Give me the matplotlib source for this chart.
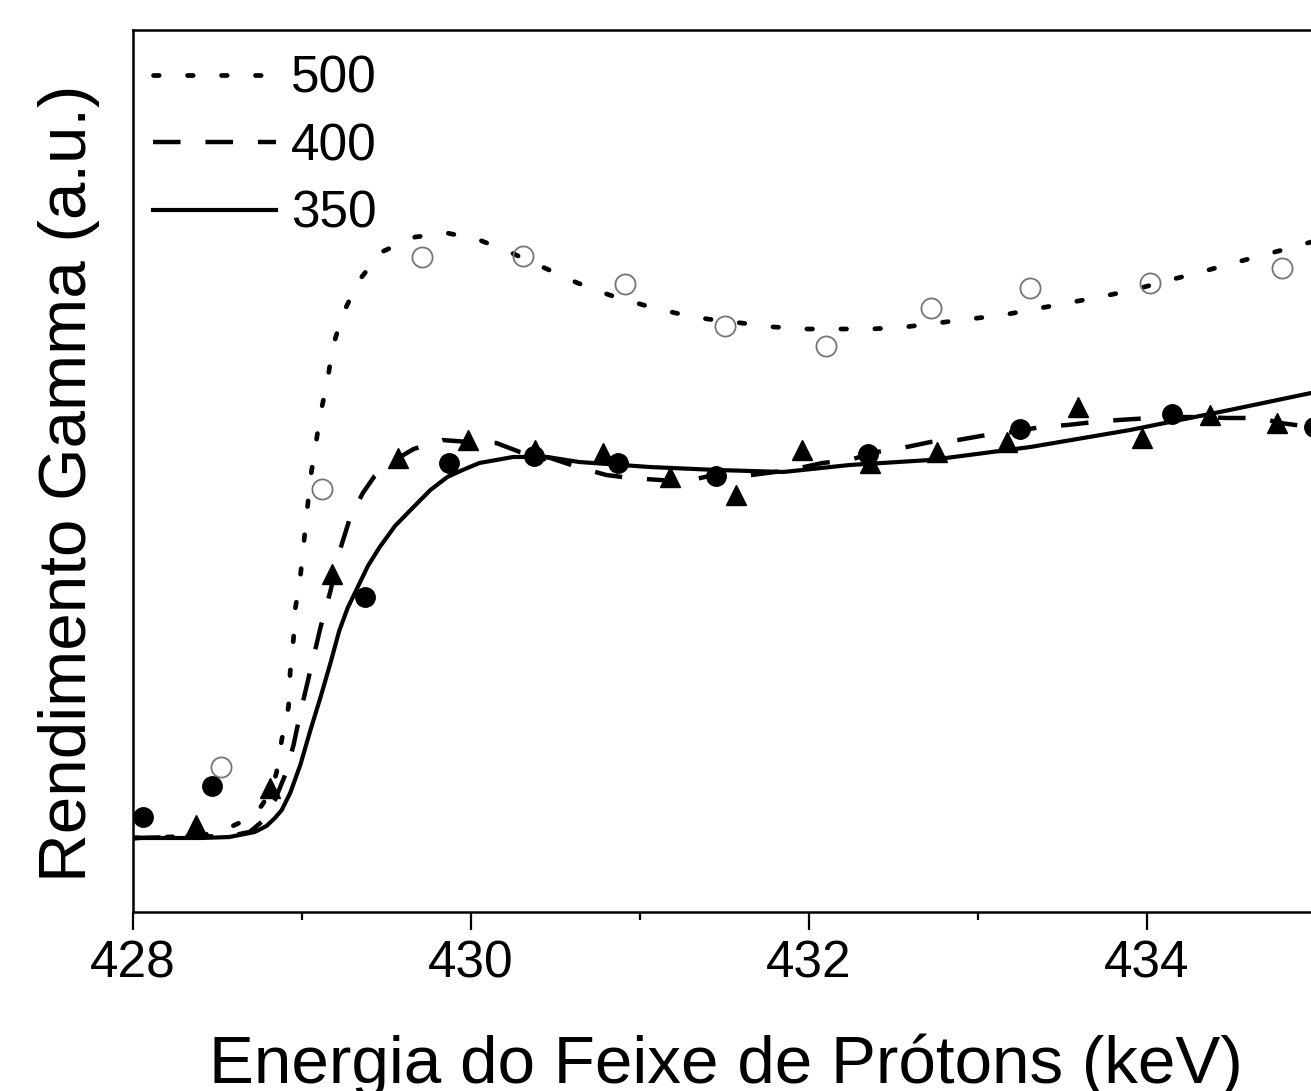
import matplotlib
matplotlib.use("Agg")
import matplotlib.pyplot as plt
from matplotlib.ticker import MultipleLocator

plt.rcParams['font.family'] = ['Liberation Sans', 'DejaVu Sans']

# ---- data (x in keV, y in arbitrary units) ----
# fitted curves
fit500_x = [428.00, 428.40, 428.59, 428.69, 428.76, 428.82, 428.85, 428.88, 428.92, 428.93,
            428.95, 428.96, 428.99, 429.01, 429.03, 429.05, 429.08, 429.11, 429.15, 429.18,
            429.24, 429.33, 429.47, 429.67, 429.86, 430.05, 430.24, 430.45, 430.63, 430.82,
            431.02, 431.21, 431.40, 431.60, 431.79, 431.99, 432.18, 432.37, 432.57, 432.76,
            432.95, 433.15, 433.34, 433.53, 433.72, 433.92, 434.11, 434.30, 434.49, 434.69,
            434.89, 434.97]
fit500_y = [8.39, 8.62, 9.75, 10.66, 12.02, 13.83, 15.87, 19.50, 23.24, 27.21,
            31.07, 34.35, 37.98, 41.72, 45.46, 49.21, 52.83, 56.58, 60.09, 63.95,
            67.69, 71.43, 74.83, 76.53, 76.98, 76.19, 74.72, 72.90, 71.32, 69.95,
            68.82, 67.91, 67.23, 66.78, 66.33, 66.10, 66.10, 66.10, 66.33, 66.78,
            67.23, 67.69, 68.37, 69.05, 69.73, 70.52, 71.54, 72.45, 73.47, 74.49,
            75.51, 75.96]

fit400_x = [428.00, 428.57, 428.69, 428.76, 428.84, 428.90, 428.95, 428.99, 429.05, 429.11,
            429.17, 429.21, 429.28, 429.36, 429.43, 429.52, 429.66, 429.83, 429.99, 430.15,
            430.29, 430.47, 430.63, 430.80, 430.94, 431.12, 431.25, 431.41, 431.57, 431.75,
            431.89, 432.08, 432.24, 432.40, 432.55, 432.72, 432.88, 433.05, 433.21, 433.37,
            433.53, 433.69, 433.83, 434.02, 434.18, 434.33, 434.47, 434.67, 434.79, 434.97]
fit400_y = [8.39, 8.62, 9.07, 10.20, 12.70, 15.53, 18.93, 22.56, 27.44, 32.31,
            36.51, 40.14, 44.44, 47.51, 49.43, 50.91, 52.49, 53.51, 53.29, 53.17,
            52.15, 51.47, 50.45, 49.55, 49.21, 48.98, 48.75, 49.43, 49.32, 49.77,
            50.11, 50.91, 51.25, 52.15, 52.61, 53.29, 53.51, 54.08, 54.42, 54.99,
            55.22, 55.56, 55.78, 56.01, 56.12, 56.12, 56.01, 56.01, 55.44, 54.99]

fit350_x = [428.00, 428.40, 428.57, 428.72, 428.79, 428.84, 428.88, 428.93, 428.99, 429.05,
            429.11, 429.17, 429.22, 429.27, 429.33, 429.39, 429.46, 429.55, 429.66, 429.76,
            429.86, 429.95, 430.05, 430.25, 430.45, 430.64, 431.06, 431.46, 431.85, 432.24,
            432.72, 433.31, 433.90, 434.49, 434.97]
fit350_y = [8.39, 8.39, 8.50, 9.07, 9.75, 10.66, 11.56, 13.49, 16.67, 20.63,
            24.38, 28.34, 31.86, 34.47, 36.85, 39.23, 41.38, 43.76, 45.92, 47.85,
            49.32, 50.11, 50.91, 51.59, 51.59, 51.02, 50.45, 50.11, 49.89, 50.68,
            51.25, 52.72, 54.65, 56.92, 58.84]

# measured points
pts500_x = [428.52, 429.12, 429.71, 430.31, 430.91, 431.50, 432.10, 432.72, 433.31, 434.02, 434.80]
pts500_y = [16.44, 47.96, 74.26, 74.38, 71.20, 66.44, 64.17, 68.48, 70.75, 71.32, 73.02]

pts400_x = [428.37, 428.81, 429.18, 429.57, 429.98, 430.38, 430.78, 431.18, 431.57, 431.96,
            432.36, 432.76, 433.17, 433.59, 433.97, 434.37, 434.77]
pts400_y = [9.86, 14.06, 38.32, 51.47, 53.51, 52.38, 52.04, 49.32, 47.28, 52.38,
            50.91, 52.15, 53.29, 57.26, 53.74, 56.35, 55.44]

pts350_x = [428.06, 428.47, 429.37, 429.87, 430.37, 430.87, 431.45, 432.35, 433.25, 434.15, 434.99]
pts350_y = [10.77, 14.29, 35.71, 50.91, 51.70, 50.91, 49.43, 51.93, 54.76, 56.46, 54.99]

legend_labels = ['500', '400', '350']
x_ticks = [428, 430, 432, 434]
x_label = 'Energia do Feixe de Prótons (keV)'
y_label = 'Rendimento Gamma (a.u.)'

# ---- figure ----
W, H = 1311, 1091
fig = plt.figure(figsize=(W / 100, H / 100), dpi=100)
ax_left = 133 / W
ax_bottom = (H - 912) / H
ax_top = (H - 30) / H
x_min, x_max = 428.0, 435.5
ax_width = (x_max - x_min) * 169 / W
ax_h = ax_top - ax_bottom
ax = fig.add_axes([ax_left, ax_bottom, ax_width, ax_h])

lw = 3.0
l500, = ax.plot(fit500_x, fit500_y, color='black', lw=3.4,
                linestyle=(0, (1.2, 6.0)), dash_capstyle='round', zorder=3)
l400, = ax.plot(fit400_x, fit400_y, color='black', lw=3.2,
                linestyle=(0, (6.2, 5.6)), zorder=3)
l350, = ax.plot(fit350_x, fit350_y, color='black', lw=lw, linestyle='-', zorder=3)

ax.plot(pts500_x, pts500_y, linestyle='none', marker='o', ms=14.5,
        mfc='none', mec='#757575', mew=1.3, zorder=4)
ax.plot(pts400_x, pts400_y, linestyle='none', marker='^', ms=14.5,
        mfc='black', mec='black', zorder=4)
ax.plot(pts350_x, pts350_y, linestyle='none', marker='o', ms=14,
        mfc='black', mec='black', zorder=4)

ax.set_xlim(x_min, x_max)
ax.set_ylim(0, 100)

for s in ['left', 'bottom', 'top']:
    ax.spines[s].set_linewidth(1.8)
ax.spines['right'].set_visible(False)

ax.set_xticks(x_ticks)
ax.set_xticklabels([str(t) for t in x_ticks])
ax.xaxis.set_minor_locator(MultipleLocator(1))
ax.tick_params(axis='x', which='major', direction='out', length=13, width=1.6,
               labelsize=37, pad=7, top=False)
ax.tick_params(axis='x', which='minor', direction='out', length=6, width=1.6, top=False)
ax.set_yticks([])

leg = ax.legend([l500, l400, l350], legend_labels, loc='upper left', frameon=False,
                fontsize=37, handlelength=2.4, handletextpad=0.3,
                labelspacing=0.36, borderaxespad=0.0,
                bbox_to_anchor=(-1 / (ax_width * W), 1 - 4 / (ax_h * H)))

fig.text(726 / W, 1 - 1083 / H, x_label, fontsize=48.5, ha='center', va='baseline')
fig.text(86 / W, 1 - 483 / H, y_label, fontsize=48.5, ha='center', va='baseline',
         rotation=90, rotation_mode='anchor')

fig.savefig('out.png', dpi=100)
